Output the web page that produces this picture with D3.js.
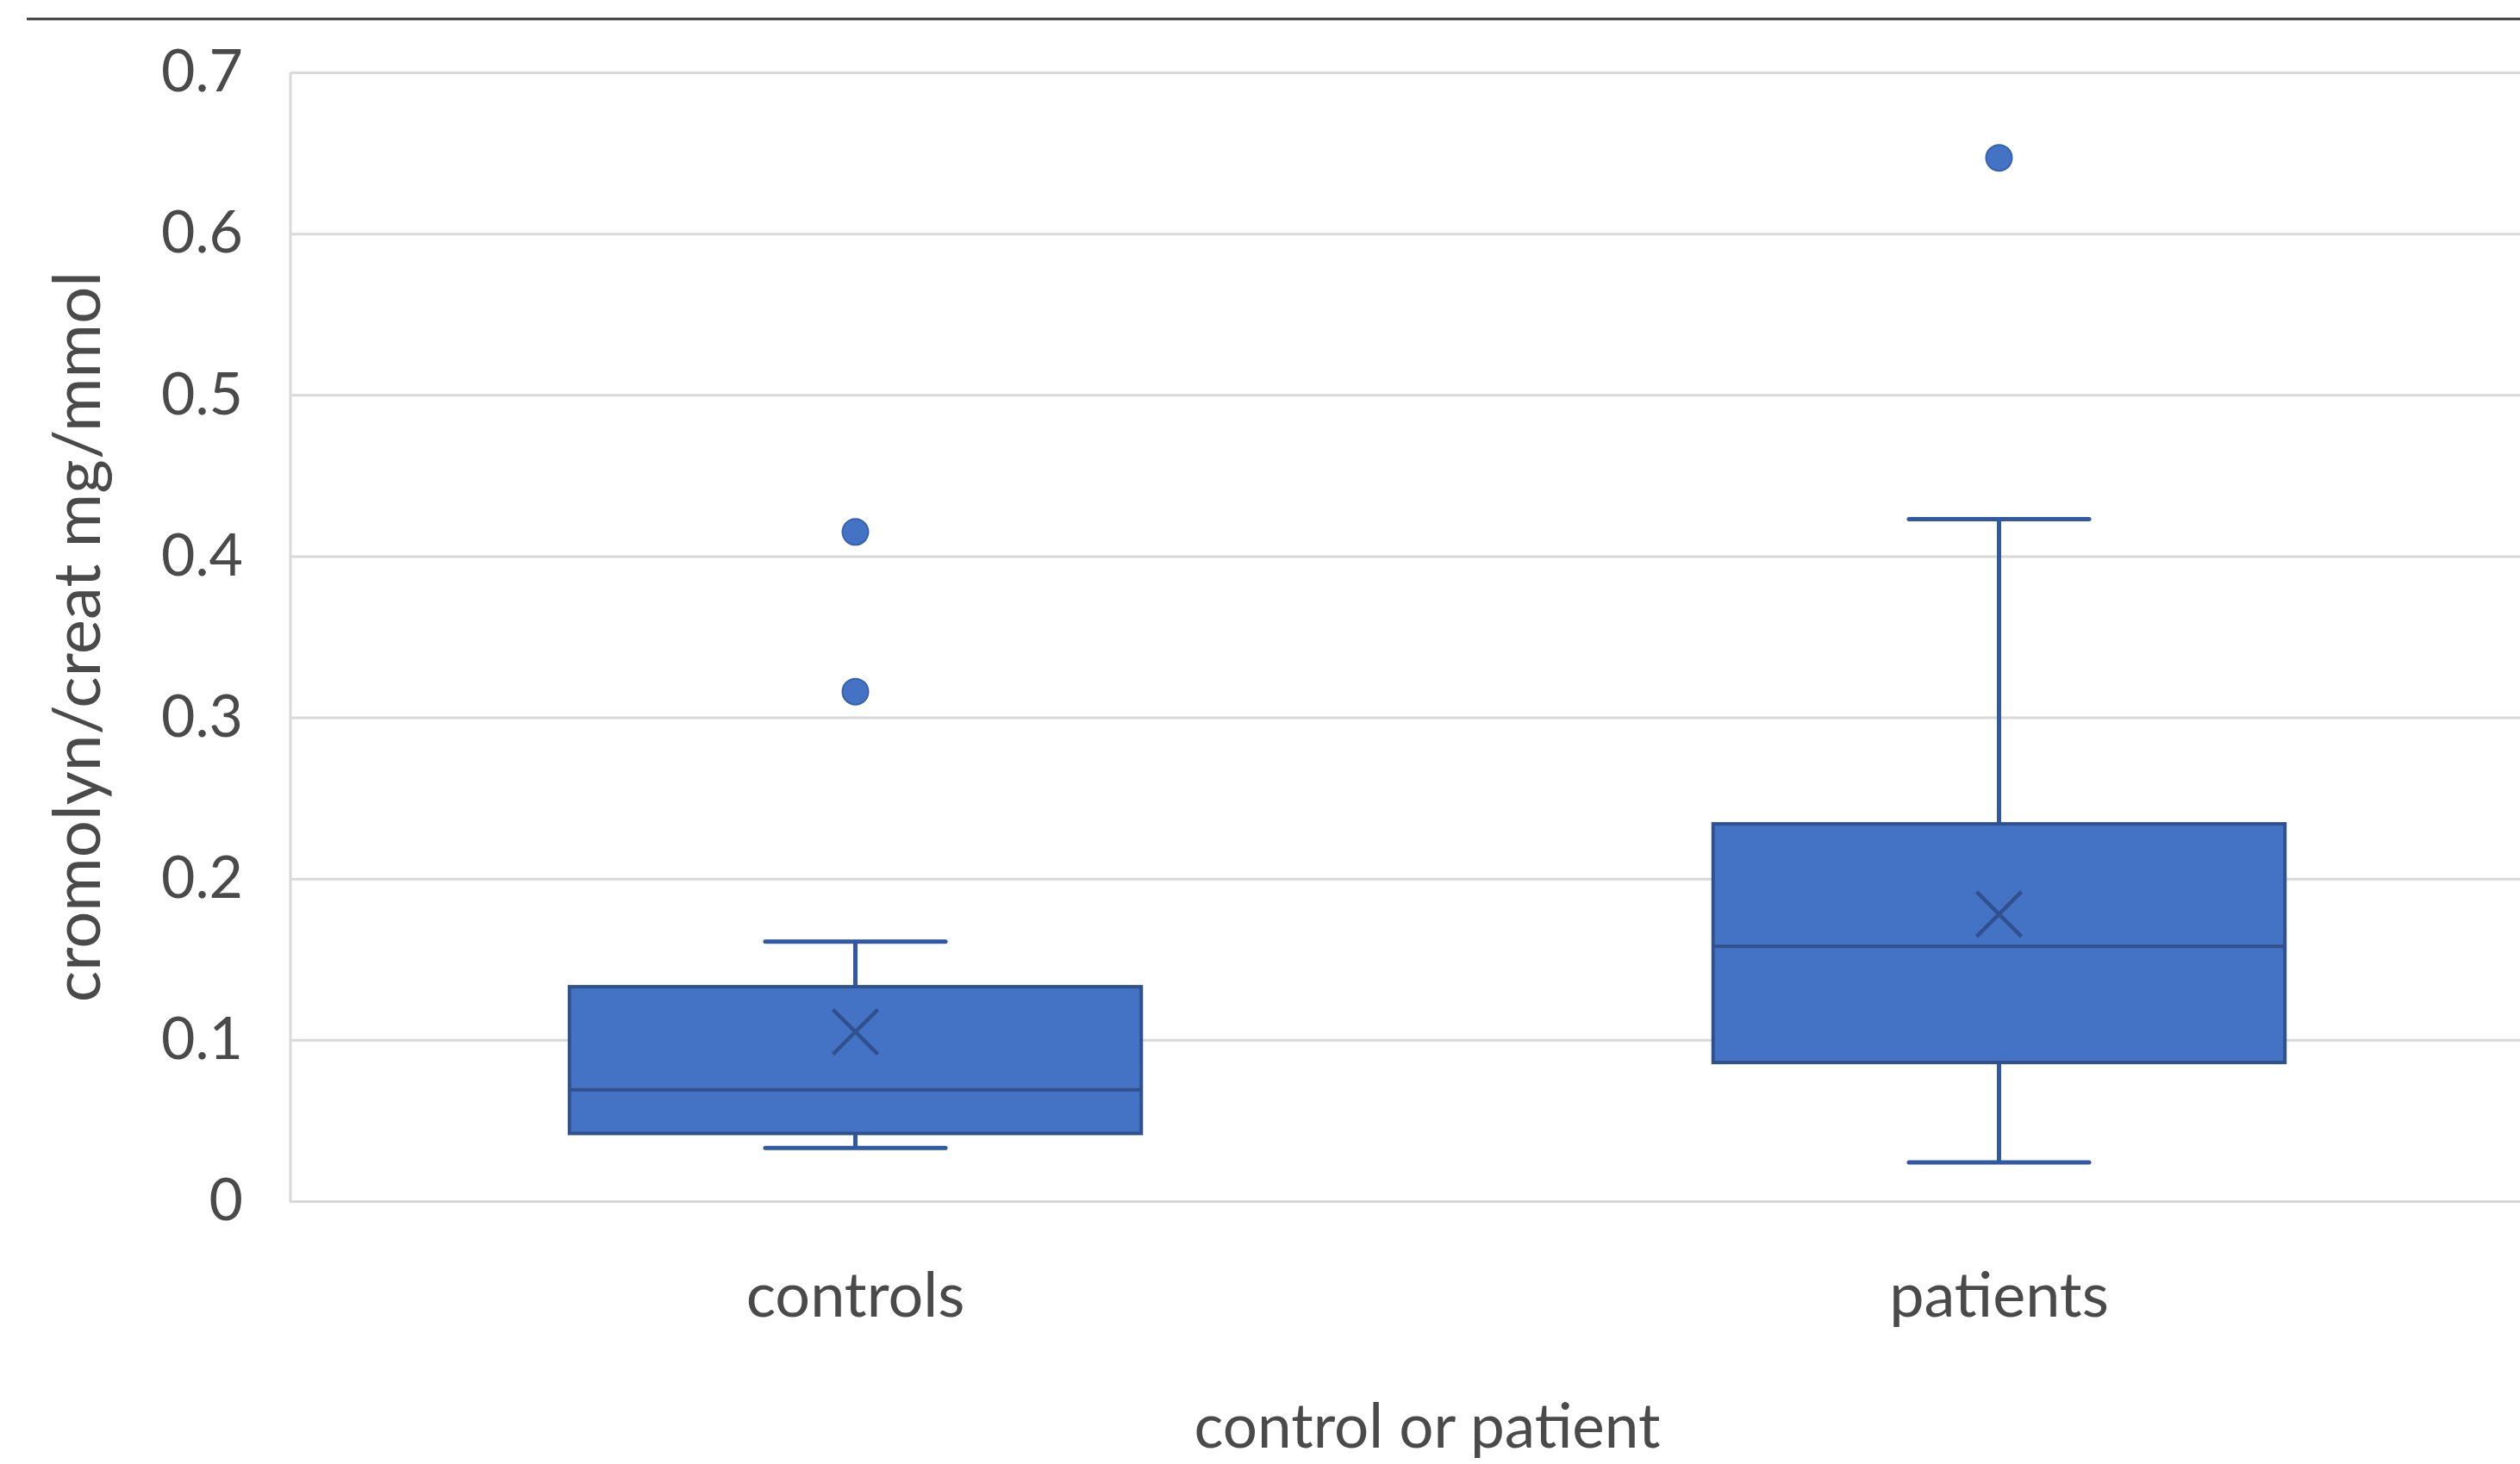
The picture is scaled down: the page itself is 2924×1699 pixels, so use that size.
<!DOCTYPE html>
<html>
<head>
<meta charset="utf-8">
<script src="https://cdn.jsdelivr.net/npm/d3@7"></script>
<style>
  html, body { margin: 0; padding: 0; background: #ffffff; }
  svg { display: block; }
  text { font-family: Lato, "Open Sans", sans-serif; fill: #4a4a4a; }
</style>
</head>
<body>
<script>
// ---- data ----
const categories = ["controls", "patients"];
const whiskerLow  = [0.033, 0.024];
const q1          = [0.042, 0.086];
const median      = [0.069, 0.158];
const q3          = [0.133, 0.234];
const whiskerHigh = [0.161, 0.423];
const means       = [0.105, 0.178];
const outliersControls = [0.415, 0.316];
const outliersPatients = [0.647];
const yTicks = [0, 0.1, 0.2, 0.3, 0.4, 0.5, 0.6, 0.7];
const yTitle = "cromolyn/creat mg/mmol";
const xTitle = "control or patient";

// ---- layout ----
const W = 2924, H = 1699;
const plotLeft = 337, plotTop = 84, plotBottom = 1394;
const textColor = "#4a4a4a";

const svg = d3.select("body").append("svg").attr("width", W).attr("height", H);

const y = d3.scaleLinear().domain([0, 0.7]).range([plotBottom, plotTop]);
const x = d3.scaleBand().domain(categories).range([329, 2983]).padding(0);

// top separator line of the screenshot
svg.append("line").attr("x1", 31).attr("x2", W).attr("y1", 22).attr("y2", 22)
  .attr("stroke", "#3a3a3a").attr("stroke-width", 3);

// gridlines via axis
const grid = svg.append("g").attr("transform", `translate(${plotLeft},0)`)
  .call(d3.axisRight(y).tickValues(yTicks).tickSize(W - plotLeft).tickFormat(""));
grid.select(".domain").remove();
grid.selectAll("line").attr("stroke", "#d9d9d9").attr("stroke-width", 3);

// left border of plot area
svg.append("line").attr("x1", plotLeft).attr("x2", plotLeft)
  .attr("y1", y(0.7)).attr("y2", y(0) + 1.5)
  .attr("stroke", "#d9d9d9").attr("stroke-width", 3);

// y tick labels
const yAxis = svg.append("g").attr("transform", `translate(282,0)`)
  .call(d3.axisLeft(y).tickValues(yTicks).tickSize(0).tickPadding(0)
    .tickFormat(d => d === 0 ? "0" : d3.format(".1f")(d)));
yAxis.select(".domain").remove();
yAxis.selectAll("text").attr("font-size", 68).attr("fill", textColor)
  .attr("font-family", "Lato, 'Open Sans', sans-serif");

// x category labels
const xAxis = svg.append("g").attr("transform", `translate(0,1528)`)
  .call(d3.axisBottom(x).tickSize(0).tickPadding(0));
xAxis.select(".domain").remove();
xAxis.selectAll("text").attr("dy", 0).attr("font-size", 72).attr("fill", textColor)
  .attr("font-family", "Lato, 'Open Sans', sans-serif");

// titles
svg.append("text").attr("x", (x.range()[0] + x.range()[1]) / 2).attr("y", 1680)
  .attr("text-anchor", "middle").attr("font-size", 71).text(xTitle);
svg.append("text")
  .attr("transform", `translate(116,${(y(0) + y(0.7)) / 2}) rotate(-90)`)
  .attr("text-anchor", "middle").attr("font-size", 76).text(yTitle);

// boxes
const boxes = categories.map((c, i) => ({
  c, lo: whiskerLow[i], q1: q1[i], med: median[i], q3: q3[i], hi: whiskerHigh[i], mean: means[i]
}));
const bw = x.bandwidth() * 0.5;
const capW = x.bandwidth() * 0.15;
const stroke = "#2f528f";
const whiskerColor = "#3159a3";
const g = svg.append("g");

boxes.forEach(b => {
  const cx = x(b.c) + x.bandwidth() / 2;
  // whiskers
  g.append("line").attr("x1", cx).attr("x2", cx).attr("y1", y(b.hi)).attr("y2", y(b.q3))
    .attr("stroke", whiskerColor).attr("stroke-width", 5);
  g.append("line").attr("x1", cx).attr("x2", cx).attr("y1", y(b.q1)).attr("y2", y(b.lo))
    .attr("stroke", whiskerColor).attr("stroke-width", 5);
  [b.hi, b.lo].forEach(v => {
    g.append("line").attr("x1", cx - capW / 2 - 5).attr("x2", cx + capW / 2 + 5)
      .attr("y1", y(v)).attr("y2", y(v))
      .attr("stroke", whiskerColor).attr("stroke-width", 5).attr("stroke-linecap", "round");
  });
  // box
  g.append("rect").attr("x", cx - bw / 2).attr("y", y(b.q3))
    .attr("width", bw).attr("height", y(b.q1) - y(b.q3))
    .attr("fill", "#4472c4").attr("stroke", stroke).attr("stroke-width", 4);
  // median
  g.append("line").attr("x1", cx - bw / 2).attr("x2", cx + bw / 2)
    .attr("y1", y(b.med)).attr("y2", y(b.med))
    .attr("stroke", stroke).attr("stroke-width", 4);
  // mean X marker
  const s = 26, my = y(b.mean);
  g.append("path")
    .attr("d", `M${cx - s},${my - s}L${cx + s},${my + s}M${cx - s},${my + s}L${cx + s},${my - s}`)
    .attr("stroke", stroke).attr("stroke-width", 4.5).attr("fill", "none");
});

// outliers
const outs = [
  ...outliersControls.map(v => ({ c: "controls", v })),
  ...outliersPatients.map(v => ({ c: "patients", v }))
];
g.selectAll("circle.out").data(outs).enter().append("circle")
  .attr("class", "out")
  .attr("cx", d => x(d.c) + x.bandwidth() / 2)
  .attr("cy", d => y(d.v))
  .attr("r", 15)
  .attr("fill", "#4472c4").attr("stroke", "#3562b3").attr("stroke-width", 2);
</script>
</body>
</html>
